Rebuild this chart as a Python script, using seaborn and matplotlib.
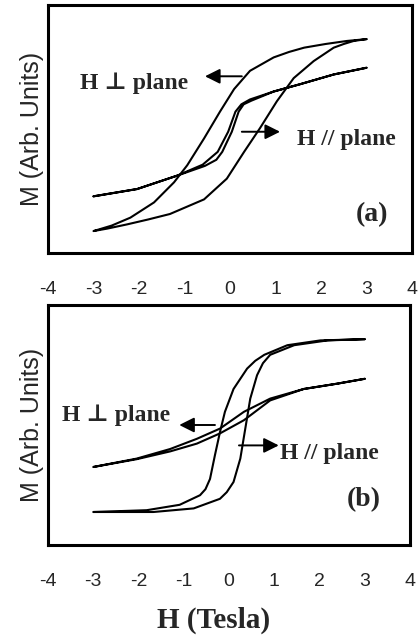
import matplotlib
matplotlib.use("Agg")
import matplotlib.pyplot as plt
import seaborn as sns
import pandas as pd

# ---- panel (a) : hysteresis loops, H in Tesla, M in arb. units ----
a_perp_down_H = [3.0, 2.57, 2.1, 1.63, 1.3, 0.96, 0.44, 0.09, -0.22, -0.57, -0.94, -1.23, -1.67, -2.19, -2.6, -3.0]
a_perp_down_M = [3.51, 3.48, 3.43, 3.37, 3.30, 3.21, 2.99, 2.69, 2.32, 1.88, 1.44, 1.16, 0.83, 0.58, 0.45, 0.36]
a_perp_up_H = [-3.0, -2.7, -2.26, -1.8, -1.32, -0.57, -0.07, 0.31, 0.66, 1.03, 1.40, 1.84, 2.28, 2.5, 2.72, 3.0]
a_perp_up_M = [0.36, 0.40, 0.47, 0.55, 0.64, 0.88, 1.22, 1.66, 2.05, 2.49, 2.87, 3.15, 3.37, 3.43, 3.48, 3.51]

a_par_down_H = [3.0, 2.28, 1.54, 0.96, 0.44, 0.25, 0.12, -0.04, -0.27, -0.6, -1.16, -2.04, -3.0]
a_par_down_M = [3.04, 2.93, 2.77, 2.65, 2.52, 2.44, 2.32, 1.99, 1.66, 1.45, 1.27, 1.05, 0.93]
a_par_up_H = [-3.0, -2.04, -1.16, -0.55, -0.30, -0.17, 0.04, 0.19, 0.30, 0.47, 0.96, 1.54, 2.28, 3.0]
a_par_up_M = [0.93, 1.05, 1.27, 1.43, 1.53, 1.66, 1.99, 2.32, 2.44, 2.50, 2.65, 2.77, 2.93, 3.04]

# ---- panel (b) ----
b_par_down_H = [3.0, 2.02, 1.29, 0.78, 0.58, 0.40, 0.10, -0.09, -0.20, -0.31, -0.42, -0.52, -0.64, -1.09, -1.82, -3.0]
b_par_down_M = [3.43, 3.41, 3.33, 3.17, 3.07, 2.94, 2.60, 2.22, 1.88, 1.50, 1.10, 0.93, 0.83, 0.67, 0.58, 0.55]
b_par_up_H = [-3.0, -1.67, -0.78, -0.20, -0.05, 0.10, 0.25, 0.36, 0.47, 0.62, 0.75, 0.91, 1.44, 2.18, 3.0]
b_par_up_M = [0.55, 0.55, 0.61, 0.77, 0.88, 1.05, 1.44, 1.94, 2.44, 2.83, 3.03, 3.17, 3.33, 3.41, 3.43]

b_perp_down_H = [3.0, 2.4, 1.65, 0.91, 0.33, -0.20, -0.71, -1.30, -2.04, -3.0]
b_perp_down_M = [2.77, 2.69, 2.60, 2.44, 2.22, 1.94, 1.77, 1.60, 1.44, 1.30]
b_perp_up_H = [-3.0, -2.04, -1.30, -0.71, -0.20, 0.33, 0.91, 1.65, 2.4, 3.0]
b_perp_up_M = [1.30, 1.43, 1.56, 1.69, 1.86, 2.08, 2.41, 2.60, 2.69, 2.77]

x_ticks = [-4, -3, -2, -1, 0, 1, 2, 3, 4]
y_ticks = [0, 1, 2, 3]


def loop_frame(down_H, down_M, up_H, up_M):
    H = list(down_H) + list(up_H)
    M = list(down_M) + list(up_M)
    return pd.DataFrame({"H": H, "M": M})


sns.set_style("white")
plt.rcParams["font.family"] = ["Liberation Sans", "DejaVu Sans"]
serif = ["Liberation Serif", "DejaVu Serif"]

fig = plt.figure(figsize=(4.18, 6.38), dpi=100)
ax1 = fig.add_axes([48 / 418, 1 - 253 / 638, 364 / 418, 248 / 638])
ax2 = fig.add_axes([48 / 418, 1 - 545 / 638, 362 / 418, 240 / 638])

panels = [
    (ax1, [(a_perp_down_H, a_perp_down_M, a_perp_up_H, a_perp_up_M),
           (a_par_down_H, a_par_down_M, a_par_up_H, a_par_up_M)], 4.07),
    (ax2, [(b_par_down_H, b_par_down_M, b_par_up_H, b_par_up_M),
           (b_perp_down_H, b_perp_down_M, b_perp_up_H, b_perp_up_M)], 4.0),
]

for ax, loops, ytop in panels:
    for lp in loops:
        df = loop_frame(*lp)
        sns.lineplot(data=df, x="H", y="M", sort=False, estimator=None,
                     color="black", linewidth=1.5, solid_joinstyle="round", ax=ax)
    ax.set_xlim(-4, 4)
    ax.set_ylim(0, ytop)
    ax.set_xticks(x_ticks)
    ax.set_xticklabels([str(t) for t in x_ticks], fontsize=14)
    ax.set_yticks(y_ticks)
    ax.set_yticklabels([])
    ax.tick_params(axis="x", direction="out", length=5, width=2, pad=15, color="black")
    ax.tick_params(axis="y", direction="out", length=3, width=1.5, color="black")
    for s in ax.spines.values():
        s.set_linewidth(2.2)
        s.set_color("black")
    ax.set_xlabel("")
    ax.set_ylabel("M (Arb. Units)", fontsize=18)
    ax.yaxis.set_label_coords(-0.012, 0.5)

arrow = dict(arrowstyle="-|>,head_length=0.9,head_width=0.45", color="black", lw=1.4,
             shrinkA=0, shrinkB=0)
txt = dict(fontsize=17, fontweight="bold", family=serif, va="center", ha="left")

# panel (a) labels
ax1.annotate("", xy=(-0.55, 2.90), xytext=(0.26, 2.90), arrowprops=arrow)
ax1.text(-3.29, 2.79, "H \u22a5 plane", **txt)
ax1.annotate("", xy=(1.10, 1.99), xytext=(0.26, 1.99), arrowprops=arrow)
ax1.text(1.47, 1.86, "H // plane", **txt)
ax1.text(3.11, 0.63, "(a)", fontsize=20, fontweight="bold", family=serif, ha="center", va="center")

# panel (b) labels
ax2.annotate("", xy=(-1.10, 2.0), xytext=(-0.31, 2.0), arrowprops=arrow)
ax2.text(-3.69, 2.16, "H \u22a5 plane", **txt)
ax2.annotate("", xy=(1.10, 1.66), xytext=(0.22, 1.66), arrowprops=arrow)
ax2.text(1.13, 1.53, "H // plane", **txt)
ax2.text(2.98, 0.75, "(b)", fontsize=20, fontweight="bold", family=serif, ha="center", va="center")

ax2.set_xlabel("H (Tesla)", fontsize=21, fontweight="bold", family=serif)
ax2.xaxis.set_label_coords((214 - 48) / 362, -0.255)

fig.savefig("out.png", dpi=100)
